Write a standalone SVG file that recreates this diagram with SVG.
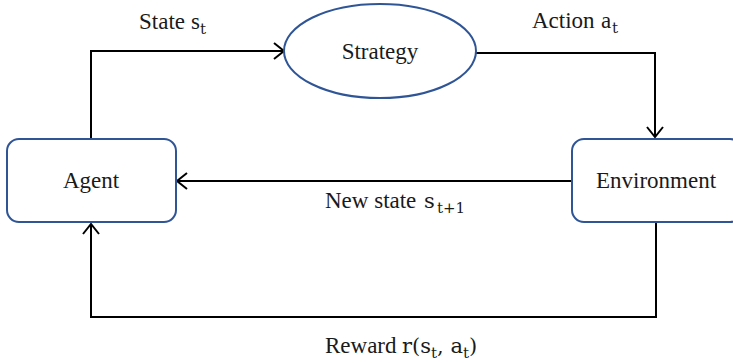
<svg xmlns="http://www.w3.org/2000/svg" width="733" height="363" viewBox="0 0 733 363">
<defs>
<style>
.node{fill:#fff;stroke:#2F5597;stroke-width:2}
.conn{fill:none;stroke:#000;stroke-width:2}
.t{font-family:"Liberation Serif","Times New Roman",serif;font-size:23px;fill:#1a1a1a}
.m{font-family:"DejaVu Serif","Liberation Serif",serif;font-size:21px}
.sub{font-family:"DejaVu Serif","Liberation Serif",serif;font-size:15px}
</style>
<marker id="arr" viewBox="0 0 12 18" refX="11" refY="9" markerWidth="12" markerHeight="18" markerUnits="userSpaceOnUse" orient="auto">
<path d="M1,1 L11,9 L1,17" fill="none" stroke="#000" stroke-width="2"/>
</marker>
</defs>
<rect width="733" height="363" fill="#fff"/>
<g id="connectors">
<path class="conn" d="M91,138 V51 H284" marker-end="url(#arr)"/>
<path class="conn" d="M476,53 H655 V137" marker-end="url(#arr)"/>
<path class="conn" d="M572,181 H177" marker-end="url(#arr)"/>
<path class="conn" d="M656,223 V317 H91 V224" marker-end="url(#arr)"/>
</g>
<g id="agent">
<rect class="node" x="7" y="139" width="169" height="83" rx="12"/>
<text class="t" x="91" y="188" text-anchor="middle">Agent</text>
</g>
<g id="strategy">
<ellipse class="node" cx="380" cy="51" rx="96" ry="47"/>
<text class="t" x="380" y="59" text-anchor="middle">Strategy</text>
</g>
<g id="environment">
<rect class="node" x="572" y="139" width="170" height="83" rx="12"/>
<text class="t" x="656" y="188" text-anchor="middle">Environment</text>
</g>
<g id="labels">
<text class="t" x="139" y="29">State <tspan x="191">s</tspan><tspan class="sub" x="200" dy="5">t</tspan></text>
<text class="t" x="532" y="28">Action <tspan x="601">a</tspan><tspan class="sub" x="612" dy="5">t</tspan></text>
<text class="t" x="325" y="208">New state<tspan class="m" x="424">s</tspan><tspan class="sub" x="437" dy="5">t+1</tspan></text>
<text class="t" x="325" y="353">Reward<tspan class="m" x="402">r(s</tspan><tspan class="sub" dy="5">t</tspan><tspan class="m" dy="-5">, a</tspan><tspan class="sub" dy="5">t</tspan><tspan class="m" dy="-5">)</tspan></text>
</g>
</svg>
